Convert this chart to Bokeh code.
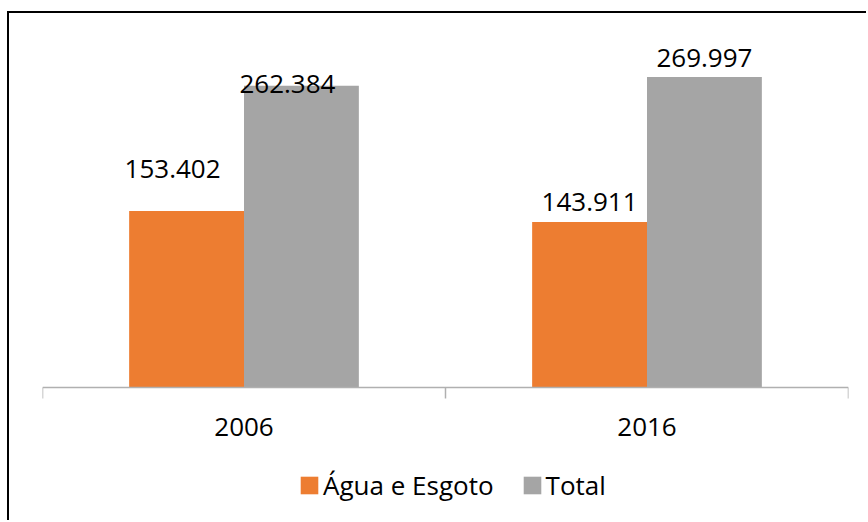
from bokeh.plotting import figure
from bokeh.models import (ColumnDataSource, FactorRange, Range1d, Legend, LegendItem)
from bokeh.transform import dodge
from bokeh.core.properties import value
from bokeh.embed import file_html
from bokeh.resources import INLINE

# ---- data ----
years = ["2006", "2016"]
agua_esgoto = [153.402, 143.911]
total = [262.384, 269.997]
agua_labels = ["153.402", "143.911"]
total_labels = ["262.384", "269.997"]

# ---- label placement (style, px) ----
agua_label_dx = [-14, 0]
agua_label_dy = [42, 20]
total_label_dx = [-14, 0]
total_label_dy = [2, 19]

FONT = "Open Sans"
FS = "26px"
ORANGE = "#ED7D31"
GREY = "#A5A5A5"
AXIS_GREY = "#B0B0B0"
TICK_LEN = 9.57  # 11 px in data units

src = ColumnDataSource(dict(
    years=years, agua=agua_esgoto, total=total,
    agua_lab=agua_labels, total_lab=total_labels,
    agua_dx=agua_label_dx, agua_dy=[-d for d in agua_label_dy],
    total_dx=total_label_dx, total_dy=[-d for d in total_label_dy],
))
last_src = ColumnDataSource(dict(years=[years[-1]]))

# frame spans the whole height; axis is drawn at y=0 inside it
p = figure(width=859, height=509, x_range=FactorRange(*years, range_padding=0),
           y_range=Range1d(-117.4, 325.2), output_backend="svg", toolbar_location=None,
           min_border_left=33, min_border_right=20, min_border_top=0,
           min_border_bottom=0)
p.styles = {"border-left": "2px solid black", "border-top": "2px solid black",
            "margin-left": "7px", "margin-top": "11px"}
p.outline_line_color = None
p.xgrid.visible = False
p.ygrid.visible = False
p.yaxis.visible = False

bw = 0.285
off = 0.1425
r1 = p.vbar(x=dodge("years", -off, range=p.x_range), top="agua", bottom=0, width=bw,
            source=src, fill_color=ORANGE, line_color=None)
r2 = p.vbar(x=dodge("years", off, range=p.x_range), top="total", bottom=0, width=bw,
            source=src, fill_color=GREY, line_color=None)

# category boundary ticks
p.segment(x0=dodge("years", -0.5, range=p.x_range), y0=0,
          x1=dodge("years", -0.5, range=p.x_range), y1=-TICK_LEN,
          source=src, line_color=AXIS_GREY, line_width=1.5)
p.segment(x0=dodge("years", 0.5, range=p.x_range), y0=0,
          x1=dodge("years", 0.5, range=p.x_range), y1=-TICK_LEN,
          source=last_src, line_color=AXIS_GREY, line_width=1.5)

p.text(x=dodge("years", -off, range=p.x_range), y="agua", text="agua_lab",
       x_offset="agua_dx", y_offset="agua_dy", source=src,
       text_font=value(FONT), text_font_size=FS, text_color="#000000",
       text_align="center", text_baseline="alphabetic")
p.text(x=dodge("years", off, range=p.x_range), y="total", text="total_lab",
       x_offset="total_dx", y_offset="total_dy", source=src,
       text_font=value(FONT), text_font_size=FS, text_color="#000000",
       text_align="center", text_baseline="alphabetic")

ax = p.xaxis[0]
ax.fixed_location = 0
ax.axis_line_color = AXIS_GREY
ax.axis_line_width = 1.5
ax.major_tick_line_color = None
ax.major_tick_out = 11
ax.major_tick_in = 0
ax.minor_tick_line_color = None
ax.major_label_text_font = FONT
ax.major_label_text_font_size = FS
ax.major_label_text_color = "#000000"
ax.major_label_standoff = 20

legend = Legend(items=[LegendItem(label="Água e Esgoto", renderers=[r1]),
                       LegendItem(label="Total", renderers=[r2])],
                orientation="horizontal", location=(256, 19),
                label_text_font=FONT, label_text_font_size=FS,
                label_text_color="#000000",
                glyph_width=22, glyph_height=22, label_standoff=3, spacing=27,
                padding=0, margin=0, border_line_color=None,
                background_fill_alpha=0)
p.add_layout(legend, "center")

open("out.html", "w").write(file_html(p, INLINE))
